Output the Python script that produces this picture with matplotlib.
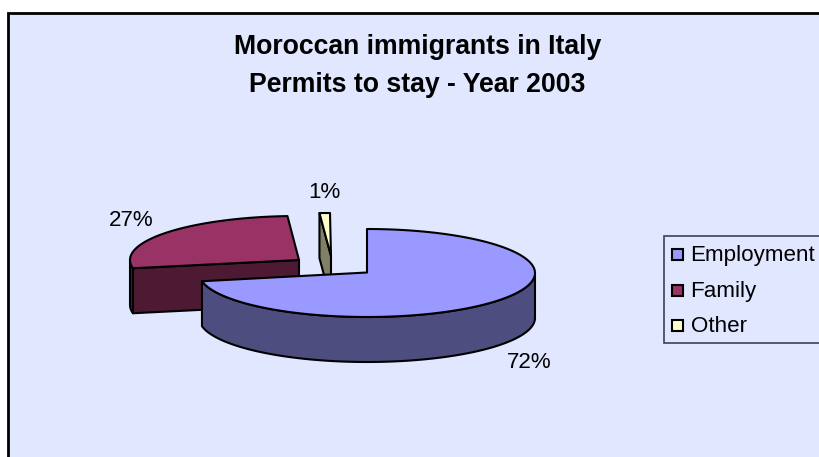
import numpy as np
import matplotlib
matplotlib.use("Agg")
import matplotlib.pyplot as plt
from matplotlib.patches import Polygon, Rectangle

plt.rcParams['font.family'] = ['Liberation Sans', 'DejaVu Sans']

# ==============================================================================
title = "Moroccan immigrants in Italy\nPermits to stay - Year 2003"
categories = ["Employment", "Family", "Other"]
shares = [72, 27, 1]

top_colors = ["#9999FF", "#993366", "#FFFFCC"]
side_colors = ["#4D4D80", "#4D1933", "#808066"]
background = "#E0E7FF"

# pie geometry in pixels
RX, RY, DEPTH = 168, 44, 45
apexes = [(367, 272.5), (299, 260), (331, 256)]
rim_centers = [(367, 273), (298, 260), (330, 257)]
label_pos = [(529, 363), (131, 220), (324, 193)]
draw_order = [2, 1, 0]


def arc(center, a0, a1, n=120):
    t = np.radians(np.linspace(a0, a1, n))
    return np.column_stack([center[0] + RX * np.cos(t), center[1] - RY * np.sin(t)])


def draw_face(ax, pts, color):
    ax.add_patch(Polygon(pts, closed=True, facecolor=color, edgecolor="black",
                         linewidth=1.5, joinstyle="round"))


# ==============================================================================
fig = plt.figure(figsize=(8.19, 4.57), dpi=100)
ax = fig.add_axes([0, 0, 1, 1])
ax.set_xlim(0, 819)
ax.set_ylim(457, 0)
ax.axis("off")

ax.add_patch(Rectangle((8, 12.5), 830, 470, facecolor=background, edgecolor="black", linewidth=2))

ax.text(417.5, 66, title, ha="center", va="center", fontsize=19.2, fontweight="bold",
        linespacing=1.55)

# slices start at 12 o'clock and run clockwise
ends = 90 - np.cumsum(shares) * 3.6
starts = np.concatenate([[90], ends[:-1]])
drop = np.array([0, DEPTH])

for i in draw_order:
    apex = np.array(apexes[i], dtype=float)
    center = rim_centers[i]
    top = arc(center, starts[i], ends[i])

    # cut face along the leading edge of the exploded slices
    if i > 0:
        corner = top[0]
        draw_face(ax, np.array([corner, apex, apex + drop, corner + drop]), side_colors[i])

    # outer wall: only the part of the rim facing the viewer
    wall = None
    if i == 0:
        wall = arc(center, 0, ends[i])
    elif i == 1:
        wall = arc(center, -180, starts[i])
    if wall is not None:
        draw_face(ax, np.vstack([wall, (wall + drop)[::-1]]), side_colors[i])

    draw_face(ax, np.vstack([[apex], top]), top_colors[i])

for v, (x, y) in zip(shares, label_pos):
    ax.text(x, y, f"{v}%", ha="center", va="center", fontsize=16.1)

# legend box runs off the right side of the frame
ax.add_patch(Rectangle((663.5, 236), 170, 107, facecolor=background, edgecolor="#404050", linewidth=1.2))
for name, color, y in zip(categories, top_colors, [254, 290, 325]):
    ax.add_patch(Rectangle((672, y - 5.5), 11, 11, facecolor=color, edgecolor="black", linewidth=1.5))
    ax.text(690.5, y + 2, name, ha="left", va="center", fontsize=16.1)

fig.savefig("out.png", dpi=100, facecolor="white")
